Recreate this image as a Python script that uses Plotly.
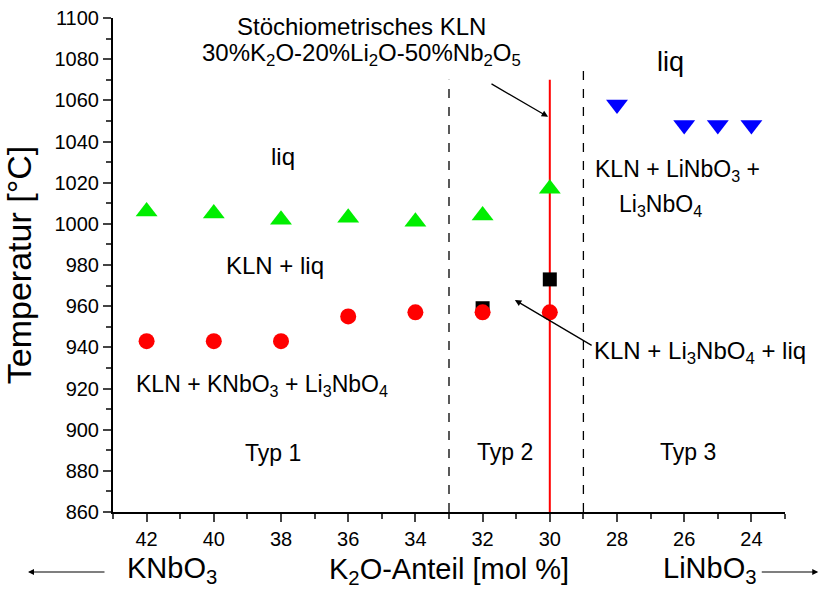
import plotly.graph_objects as go

# Data
x_liq = [42, 40, 38, 36, 34, 32, 30]
t_liq = [1006, 1005, 1002, 1003, 1001, 1004, 1017]
x_sol = [42, 40, 38, 36, 34, 32, 30]
t_sol = [943, 943, 943, 955, 957, 957, 957]
x_sq = [32, 30]
t_sq = [959, 973]
x_blue = [28, 26, 25, 24]
t_blue = [1058, 1048, 1048, 1048]
boundaries = [33, 29]
boundary_top = [1070, 1078]
stoich_x = 30
stoich_top = 1070

FONT = "Liberation Sans, Arial, sans-serif"

fig = go.Figure()
fig.add_trace(go.Scatter(x=x_sq, y=t_sq, mode="markers",
                         marker=dict(symbol="square", size=14, color="black"), showlegend=False))
fig.add_trace(go.Scatter(x=x_sol, y=t_sol, mode="markers",
                         marker=dict(symbol="circle", size=16, color="#ff0000"), showlegend=False))
fig.add_trace(go.Scatter(x=x_liq, y=t_liq, mode="markers",
                         marker=dict(symbol="triangle-up", size=19, color="#00ee00"), showlegend=False))
fig.add_trace(go.Scatter(x=x_blue, y=t_blue, mode="markers",
                         marker=dict(symbol="triangle-down", size=19, color="#0000ff"), showlegend=False))

for bx, bt in zip(boundaries, boundary_top):
    fig.add_shape(type="line", x0=bx, x1=bx, y0=860, y1=bt, xref="x", yref="y",
                  line=dict(color="black", width=1.3, dash="dash"), layer="below")
fig.add_shape(type="line", x0=stoich_x, x1=stoich_x, y0=860, y1=stoich_top, xref="x", yref="y",
              line=dict(color="#ff0000", width=2), layer="below")

txt = [
    (37.94, 1032.5, "liq", 24),
    (38.18, 980, "KLN + liq", 24),
    (38.57, 921.7, "KLN + KNbO<sub>3</sub> + Li<sub>3</sub>NbO<sub>4</sub>", 23),
    (38.24, 888.6, "Typ 1", 23),
    (31.33, 889, "Typ 2", 23),
    (25.89, 889, "Typ 3", 23),
    (26.42, 1078.6, "liq", 27),
    (26.21, 1026, "KLN + LiNbO<sub>3</sub> +", 23),
    (26.72, 1009, "Li<sub>3</sub>NbO<sub>4</sub>", 23),
    (35.59, 1095.9, "Stöchiometrisches KLN", 24),
    (35.59, 1082.4, "30%K<sub>2</sub>O-20%Li<sub>2</sub>O-50%Nb<sub>2</sub>O<sub>5</sub>", 24),
    (25.52, 937.6, "KLN + Li<sub>3</sub>NbO<sub>4</sub> + liq", 24),
]
for x, y, t, s in txt:
    fig.add_annotation(x=x, y=y, text=t, showarrow=False, font=dict(size=s, color="black", family=FONT))

# arrows
fig.add_annotation(x=30.05, y=1052, ax=31.78, ay=1068.4, axref="x", ayref="y", text="",
                   showarrow=True, arrowhead=2, arrowsize=1, arrowwidth=1.3, arrowcolor="black")
fig.add_annotation(x=31.04, y=963, ax=28.71, ay=940.5, axref="x", ayref="y", text="",
                   showarrow=True, arrowhead=2, arrowsize=1, arrowwidth=1.3, arrowcolor="black")

# bottom labels
fig.add_annotation(x=0.088, y=-0.157, xref="paper", yref="paper", xanchor="center", text="KNbO<sub>3</sub>",
                   showarrow=False, font=dict(size=29, color="black", family=FONT))
fig.add_annotation(x=0.50, y=-0.16, xref="paper", yref="paper", xanchor="center", text="K<sub>2</sub>O-Anteil [mol %]",
                   showarrow=False, font=dict(size=29, color="black", family=FONT))
fig.add_annotation(x=0.888, y=-0.157, xref="paper", yref="paper", xanchor="center", text="LiNbO<sub>3</sub>",
                   showarrow=False, font=dict(size=29, color="black", family=FONT))
fig.add_annotation(x=-0.1265, y=-0.1215, xref="paper", yref="paper", ax=78, ay=0, text="",
                   showarrow=True, arrowhead=2, arrowsize=1, arrowwidth=1.2, arrowcolor="black")
fig.add_annotation(x=1.0495, y=-0.1215, xref="paper", yref="paper", ax=-58, ay=0, text="",
                   showarrow=True, arrowhead=2, arrowsize=1, arrowwidth=1.2, arrowcolor="black")

fig.update_layout(
    width=821, height=596,
    margin=dict(l=113, r=36, t=18, b=84),
    plot_bgcolor="white", paper_bgcolor="white",
    font=dict(family=FONT, color="black"),
    xaxis=dict(range=[43, 23], tickvals=[42, 40, 38, 36, 34, 32, 30, 28, 26, 24], automargin=False,
               ticks="outside", ticklen=8, tickwidth=2, showline=True, linewidth=2,
               linecolor="black", showgrid=False, zeroline=False,
               tickfont=dict(size=20), minor=dict(dtick=1, ticks="outside", ticklen=5, tickwidth=2, tick0=43)),
    yaxis=dict(range=[860, 1100], dtick=20, ticks="outside", ticklen=8, tickwidth=2, automargin=False,
               showline=True, linewidth=2, linecolor="black", showgrid=False, zeroline=False,
               tickfont=dict(size=20), minor=dict(dtick=10, ticks="outside", ticklen=5, tickwidth=2),
               title=dict(text="Temperatur [°C]", font=dict(size=34), standoff=14)),
)

fig.write_html("out.html", config={"displayModeBar": False},
               post_script="document.body.style.margin='0';document.body.style.overflow='hidden';")
